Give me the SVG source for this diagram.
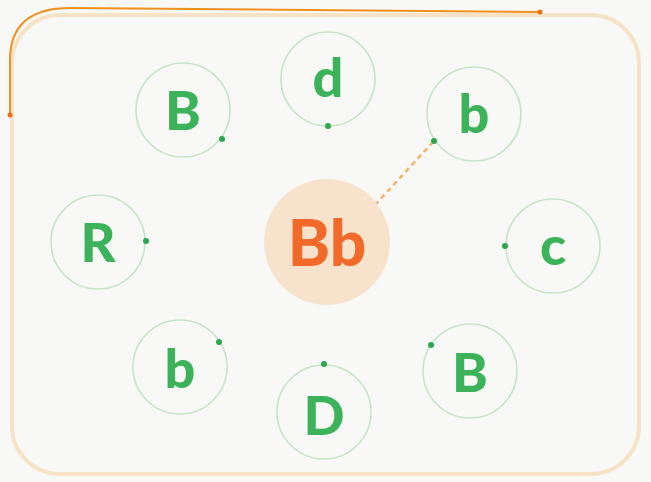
<svg xmlns="http://www.w3.org/2000/svg" width="651" height="482" viewBox="0 0 651 482">
<style>
.ring{fill:none;stroke:#c4e6c4;stroke-width:1.6}
.dot{fill:#2ea650}
.lt{font-family:Lato,"Noto Sans",sans-serif;font-weight:900;font-size:54px;fill:#3cb25a;text-anchor:middle}
</style>
<rect x="0" y="0" width="651" height="482" fill="#f8f8f6"/>
<rect x="12" y="15" width="627" height="459" rx="48" fill="none" stroke="#f6e2c4" stroke-width="4"/>
<g id="connectors">
<path d="M10,115 L10,60 Q10,8 70,8 L540,12" fill="none" stroke="#f0901e" stroke-width="2"/>
<circle cx="10" cy="115" r="2.5" fill="#e8701a"/>
<circle cx="540" cy="12" r="2.5" fill="#e8701a"/>
<line x1="375" y1="205" x2="432" y2="143" stroke="#f2b26a" stroke-width="2.5" stroke-dasharray="5,4"/>
</g>
<g id="center"><circle cx="327" cy="242" r="63" fill="#f7e3cc"/><text x="327" y="266" font-family="Lato,'Noto Sans',sans-serif" font-weight="900" font-size="64" fill="#f26a2a" text-anchor="middle">Bb</text></g>
<g id="n1"><circle class="ring" cx="183" cy="110" r="47"/><text class="lt" x="183" y="130">B</text><circle class="dot" cx="222" cy="139" r="3"/></g>
<g id="n2"><circle class="ring" cx="328" cy="79" r="47"/><text class="lt" x="328" y="97">d</text><circle class="dot" cx="328" cy="126" r="3"/></g>
<g id="n3"><circle class="ring" cx="474" cy="114" r="47"/><text class="lt" x="474" y="133">b</text><circle class="dot" cx="434" cy="141" r="3"/></g>
<g id="n4"><circle class="ring" cx="98" cy="242" r="47"/><text class="lt" x="98" y="262">R</text><circle class="dot" cx="146" cy="241" r="3"/></g>
<g id="n5"><circle class="ring" cx="553" cy="246" r="47"/><text class="lt" x="553" y="265">c</text><circle class="dot" cx="505" cy="246" r="3"/></g>
<g id="n6"><circle class="ring" cx="180" cy="367" r="47"/><text class="lt" x="180" y="388">b</text><circle class="dot" cx="219" cy="342" r="3"/></g>
<g id="n7"><circle class="ring" cx="324" cy="412" r="47"/><text class="lt" x="324" y="435">D</text><circle class="dot" cx="324" cy="364" r="3"/></g>
<g id="n8"><circle class="ring" cx="470" cy="371" r="47"/><text class="lt" x="470" y="392">B</text><circle class="dot" cx="431" cy="345" r="3"/></g>
</svg>
